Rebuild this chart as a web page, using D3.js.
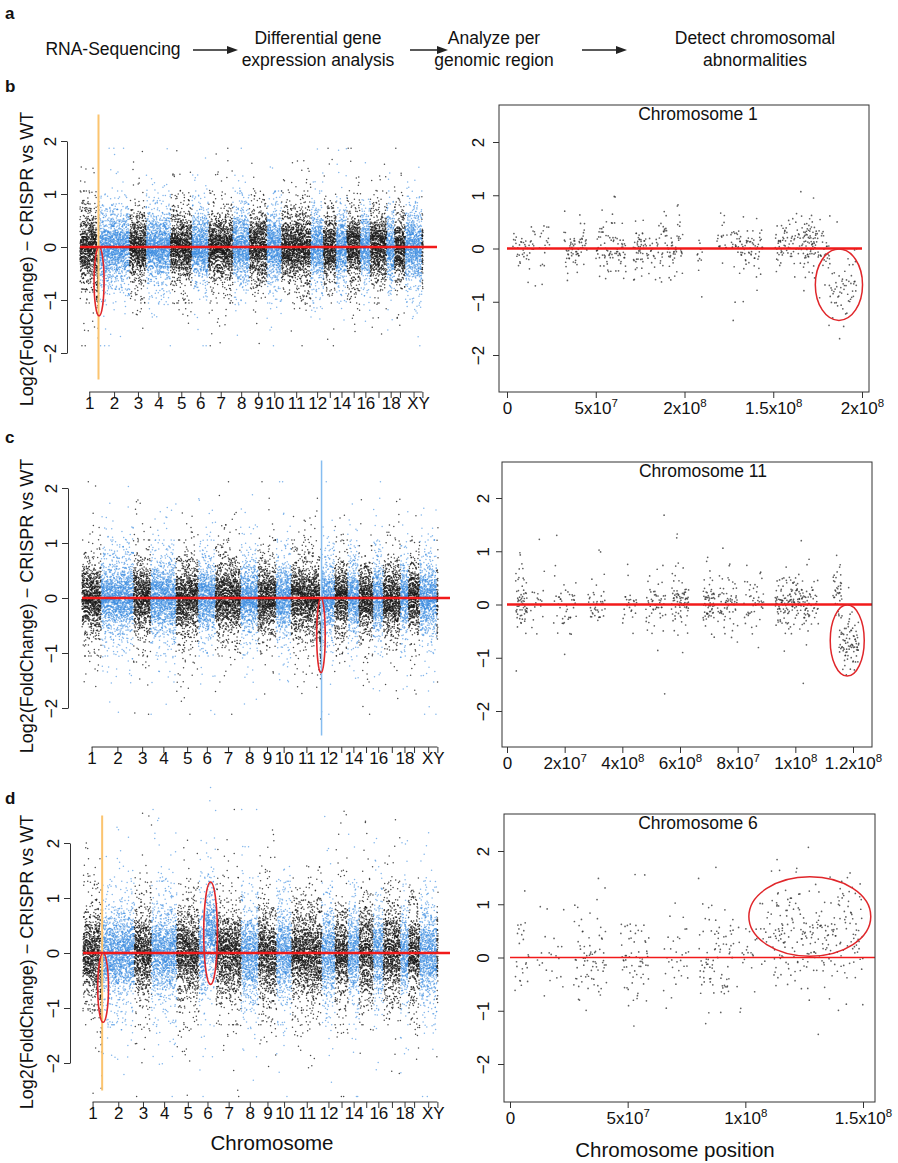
<!DOCTYPE html>
<html>
<head>
<meta charset="utf-8">
<script src="https://cdn.jsdelivr.net/npm/d3@7"></script>
<style>
  body { margin: 0; background: #fff; }
  svg text { font-family: "Liberation Sans", Arial, Helvetica, sans-serif; fill: #111; }
</style>
</head>
<body>
<svg id="fig" width="898" height="1163"></svg>
<script>
// ========================================
// ============ Data (read off) ===========
// ========================================

// Mouse chromosomes, approx. number of expressed genes (x = gene order)
var chromNames = ["1","2","3","4","5","6","7","8","9","10","11","12","13","14","15","16","17","18","19","X","Y"];
var geneCounts = [950,1600,850,1250,1100,850,1250,850,900,750,1500,650,650,550,700,500,850,400,550,850,60];
// R drops overlapping labels, these are the ones that survive
var shownChromLabels = ["1","2","3","4","5","6","7","8","9","10","11","12","14","16","18","X","Y"];
var yTicks = [-2, -1, 0, 1, 2];

// genome-wide log2FC spread per panel [core, wide]
var spreadB = [0.17, 0.3];
var spreadC = [0.17, 0.34];
var spreadD = [0.21, 0.42];

// shifted segments (fraction along the chromosome)
var shiftsB = [{chrom: "1", from: 0.9, to: 1.0, shift: -0.7}];
var shiftsC = [{chrom: "11", from: 0.94, to: 1.0, shift: -0.7}];
var shiftsD = [{chrom: "1", from: 0.9, to: 1.0, shift: -0.65},
               {chrom: "6", from: 0.4, to: 1.0, shift: 0.4}];

// circled regions on genome plots
var circledB = [{chrom: "1", at: 1.03, halfWidth: 0.27, y: -0.65, halfHeight: 0.65}];
var circledC = [{chrom: "11", at: 0.98, halfWidth: 0.14, y: -0.68, halfHeight: 0.68}];
var circledD = [{chrom: "1", at: 1.05, halfWidth: 0.28, y: -0.63, halfHeight: 0.63},
                {chrom: "6", at: 0.68, halfWidth: 0.4, y: 0.36, halfHeight: 0.93}];

// vertical marker [chrom, fraction]
var markerB = ["1", 1.0];
var markerC = ["11", 1.0];
var markerD = ["1", 1.0];

// per-chromosome gene clusters: [startMb, endMb, genes, shift]
var clustersChr1 = [[3,16,45,0],[18,24,18,0],[32,45,70,0],[50,67,90,0],[71,77,45,0.05],[77,86,30,0],
  [86,99,70,0.05],[107,110,12,-0.1],[118,124,18,0.1],[126,144,85,0.05],[151,157,35,0.1],
  [157,167,45,0.1],[167,174,70,0.15],[174,182,35,0.05],[181,197,60,-0.75]];
var clustersChr11 = [[3,7,65,0],[8,13,18,0],[16,24,45,0],[28,34,40,-0.05],[40,45,25,0],[48,55,55,0],
  [57,63,80,0.05],[68,72,65,0.05],[73,80,65,0],[82,89,45,0],[93,105,170,0.05],[105,108,22,0],
  [113,116,32,0.3],[115,122,90,-0.72]];
var clustersChr6 = [[2,8,25,0],[11,23,22,0],[27,41,75,0],[47,59,65,-0.15],[65,76,32,0],[80,95,85,0],
  [96,105,22,0],[106,116,30,0.4],[112,150,175,0.6],[112,150,55,-0.1]];
var spreadChr1 = [0.13, 0.27];
var spreadChr11 = [0.13, 0.27];
var spreadChr6 = [0.22, 0.4];

var ticksChr1 = [0, 5e7, 1e8, 1.5e8, 2e8];
var tickLabelsChr1 = ["0", "5x10^7", "2x10^8", "1.5x10^8", "2x10^8"];
var ticksChr11 = [0, 2e7, 4e7, 6e7, 8e7, 1e8, 1.2e8];
var tickLabelsChr11 = ["0", "2x10^7", "4x10^8", "6x10^8", "8x10^7", "1x10^8", "1.2x10^8"];
var ticksChr6 = [0, 5e7, 1e8, 1.5e8];
var tickLabelsChr6 = ["0", "5x10^7", "1x10^8", "1.5x10^8"];

var flowSteps = [["RNA-Sequencing"], ["Differential gene", "expression analysis"],
                 ["Analyze per", "genomic region"], ["Detect chromosomal", "abnormalities"]];

// ========================================
// ============== Drawing =================
// ========================================
var svg = d3.select("#fig");
var RED = "#f21a1a", BLACK = "#1a1a1a", BLUE = "#3d8ee0", AXIS = "#333";
var PHI = 0.6180339887498949, RT2 = 0.41421356237309515;

// logistic quantile at an evenly spread (quadratic Weyl) position
function spreadQuantile(k, off) {
    var u = (k * (k * RT2 * 0.5 + PHI) + off) % 1;
    u = Math.min(Math.max(u, 0.002), 0.998);
    return Math.log(u / (1 - u));
}

function panelLetter(t, x, y) {
    svg.append("text").attr("x", x).attr("y", y)
        .attr("font-size", 17).attr("font-weight", "bold").text(t);
}

// Rotated y tick labels the R way
function rotateYLabels(axisG, shift) {
    axisG.selectAll(".tick text")
        .attr("x", 0).attr("y", 0).attr("dy", 0)
        .attr("text-anchor", "middle")
        .attr("transform", "translate(" + shift + ",0) rotate(-90)");
}

// ---- Flow chart (panel a)
panelLetter("a", 5, 19);
var flowX = [113, 318, 494, 755];
flowSteps.forEach(function(lines, i) {
    var t = svg.append("text").attr("x", flowX[i]).attr("text-anchor", "middle").attr("font-size", 17.5);
    lines.forEach(function(l, j) {
        t.append("tspan").attr("x", flowX[i])
            .attr("y", lines.length == 1 ? 55 : 44 + j * 22).text(l);
    });
});
var arrowX = [[193, 238], [410, 448], [582, 627]];
arrowX.forEach(function(a) {
    svg.append("line").attr("x1", a[0]).attr("x2", a[1] - 8).attr("y1", 50).attr("y2", 50)
        .attr("stroke", "#222").attr("stroke-width", 1.5);
    svg.append("path")
        .attr("d", "M" + a[1] + ",50 L" + (a[1] - 11) + ",46 L" + (a[1] - 11) + ",54 Z")
        .attr("fill", "#222");
});

// ---- Genome-wide plot
function drawGenome(cfg) {
    var g = svg.append("g");
    var starts = [0];
    geneCounts.forEach(function(n, i) { starts.push(starts[i] + n); });
    var total = starts[starts.length - 1];

    var x = d3.scaleLinear().domain([0, total]).range([cfg.x0, cfg.x1]);
    var y = d3.scaleLinear().domain([-2, 2]).range([cfg.yBottom, cfg.yTop]);

    var genes = [];
    chromNames.forEach(function(c, ci) {
        for (var j = 0; j < geneCounts[ci]; j++) {
            var k = starts[ci] + j + 1;
            var frac = j / geneCounts[ci];
            var s = (k % 4 == 0) ? cfg.spread[1] : cfg.spread[0];
            var shift = 0;
            cfg.shifts.forEach(function(sh) {
                if (sh.chrom == c && frac >= sh.from && frac <= sh.to) shift = sh.shift;
            });
            genes.push({idx: k - 0.5, lfc: shift + s * spreadQuantile(k, cfg.offset), ci: ci});
        }
    });

    g.append("g").selectAll("circle")
        .data(genes)
        .join("circle")
        .attr("cx", function(d) { return x(d.idx); })
        .attr("cy", function(d) { return y(d.lfc); })
        .attr("r", 0.75)
        .attr("fill", function(d) { return d.ci % 2 ? BLUE : BLACK; })
        .attr("fill-opacity", function(d) { return d.ci % 2 ? 0.65 : 0.8; });

    // vertical marker
    var mi = chromNames.indexOf(cfg.marker[0]);
    var mx = x(starts[mi] + geneCounts[mi] * cfg.marker[1]);
    g.append("line").attr("x1", mx).attr("x2", mx)
        .attr("y1", y(2.5)).attr("y2", y(-2.5))
        .attr("stroke", cfg.markerColor).attr("stroke-width", cfg.markerWidth);

    // zero line
    g.append("line").attr("x1", cfg.x0).attr("x2", cfg.redEnd)
        .attr("y1", y(0)).attr("y2", y(0))
        .attr("stroke", RED).attr("stroke-width", 2.6);

    // circled regions
    cfg.circled.forEach(function(e) {
        var ci = chromNames.indexOf(e.chrom);
        g.append("ellipse")
            .attr("cx", x(starts[ci] + geneCounts[ci] * e.at))
            .attr("cy", y(e.y))
            .attr("rx", x(geneCounts[ci] * e.halfWidth) - x(0))
            .attr("ry", y(0) - y(e.halfHeight))
            .attr("fill", "none").attr("stroke", "#e0262a").attr("stroke-width", 1.6);
    });

    // y axis
    var ya = g.append("g").attr("transform", "translate(" + cfg.axisX + ",0)")
        .call(d3.axisLeft(y).tickValues(yTicks).tickSize(6).tickSizeOuter(0).tickFormat(d3.format("d")));
    ya.selectAll("path, line").attr("stroke", AXIS);
    ya.selectAll("text").attr("font-size", 17).attr("fill", "#111");
    rotateYLabels(ya, -11);

    // x axis: ticks at chromosome centres, line from first to last tick
    var centers = chromNames.map(function(c, i) { return starts[i] + geneCounts[i] / 2; });
    var xa = g.append("g").attr("transform", "translate(0," + cfg.axisY + ")")
        .call(d3.axisBottom(x).tickValues(centers).tickSize(6)
            .tickFormat(function(d, i) {
                return shownChromLabels.indexOf(chromNames[i]) >= 0 ? chromNames[i] : "";
            }));
    xa.select(".domain").remove();
    xa.append("line").attr("x1", x(centers[0])).attr("x2", x(centers[centers.length - 1]))
        .attr("stroke", AXIS);
    xa.selectAll("line").attr("stroke", AXIS);
    xa.selectAll("text").attr("font-size", 17).attr("fill", "#111")
        .attr("y", 17).attr("dy", 0);
    // X and Y sit almost on top of each other: butt them together as "XY"
    var nx = centers.length;
    var mid = (x(centers[nx - 2]) + x(centers[nx - 1])) / 2;
    xa.selectAll(".tick").each(function(d, i) {
        if (i == nx - 2) d3.select(this).select("text").attr("text-anchor", "end")
            .attr("x", mid - x(centers[nx - 2]));
        if (i == nx - 1) d3.select(this).select("text").attr("text-anchor", "start")
            .attr("x", mid - x(centers[nx - 1]));
    });

    // y label
    svg.append("text")
        .attr("transform", "translate(33," + cfg.labelY + ") rotate(-90)")
        .attr("text-anchor", "middle").attr("font-size", 18)
        .text("Log2(FoldChange) \u2212 CRISPR vs WT");
}

// ---- Single chromosome plot
function drawChromosome(cfg) {
    var g = svg.append("g");
    var x = d3.scaleLinear().domain([0, cfg.refTick]).range([cfg.xZero, cfg.xRef]);
    var y = d3.scaleLinear().domain([-2, 2]).range([cfg.yBottom, cfg.yTop]);

    var pts = [], k = 0;
    cfg.clusters.forEach(function(c) {
        for (var j = 0; j < c[2]; j++) {
            k++;
            var s = (k % 4 == 0) ? cfg.spread[1] : cfg.spread[0];
            pts.push({
                pos: (c[0] + (c[1] - c[0]) * ((j * RT2 + 0.5) % 1)) * 1e6,
                lfc: c[3] + s * spreadQuantile(k, cfg.offset)
            });
        }
    });

    g.append("g").selectAll("circle")
        .data(pts)
        .join("circle")
        .attr("cx", function(d) { return x(d.pos); })
        .attr("cy", function(d) { return y(d.lfc); })
        .attr("r", 0.85)
        .attr("fill", "#2a2a2a")
        .attr("fill-opacity", 0.75);

    g.append("line").attr("x1", x(0)).attr("x2", Math.min(x(cfg.redEnd), cfg.box[2]))
        .attr("y1", y(0)).attr("y2", y(0))
        .attr("stroke", RED).attr("stroke-width", cfg.redWidth);

    var e = cfg.circle;
    g.append("ellipse")
        .attr("cx", x(e[0])).attr("cy", y(e[1]))
        .attr("rx", x(e[2]) - x(0)).attr("ry", y(0) - y(e[3]))
        .attr("fill", "none").attr("stroke", "#e0262a").attr("stroke-width", 1.5);

    // box
    g.append("rect").attr("x", cfg.box[0]).attr("y", cfg.box[1])
        .attr("width", cfg.box[2] - cfg.box[0]).attr("height", cfg.box[3] - cfg.box[1])
        .attr("fill", "none").attr("stroke", AXIS).attr("stroke-width", 1);

    var ya = g.append("g").attr("transform", "translate(" + cfg.box[0] + ",0)")
        .call(d3.axisLeft(y).tickValues(yTicks).tickSize(6).tickFormat(d3.format("d")));
    ya.select(".domain").remove();
    ya.selectAll("line").attr("stroke", AXIS);
    ya.selectAll("text").attr("font-size", 17).attr("fill", "#111");
    rotateYLabels(ya, -(cfg.box[0] - cfg.yLabelX) + 6);

    var xa = g.append("g").attr("transform", "translate(0," + cfg.box[3] + ")")
        .call(d3.axisBottom(x).tickValues(cfg.ticks).tickSize(6).tickFormat(""));
    xa.select(".domain").remove();
    xa.selectAll("line").attr("stroke", AXIS);
    xa.selectAll(".tick").each(function(d, i) {
        var parts = cfg.tickLabels[i].split("^");
        var t = d3.select(this).append("text")
            .attr("y", 22).attr("text-anchor", "middle").attr("font-size", 17).attr("fill", "#111");
        t.append("tspan").text(parts[0]);
        if (parts.length > 1) {
            t.append("tspan").attr("dy", -7).attr("font-size", 11.5).text(parts[1]);
        }
    });

    svg.append("text").attr("x", cfg.titleX).attr("y", cfg.box[1] + 15)
        .attr("text-anchor", "middle").attr("font-size", 17.5).text(cfg.title);
}

// ---- Panel b
panelLetter("b", 5, 92);
drawGenome({x0: 80, x1: 423, yTop: 141, yBottom: 353, axisX: 67, axisY: 392, redEnd: 437,
    labelY: 259, spread: spreadB, shifts: shiftsB, circled: circledB, offset: 0.13,
    marker: markerB, markerColor: "#fbc46f", markerWidth: 2});
drawChromosome({box: [499, 105, 869, 392], xZero: 507, xRef: 862, refTick: 2e8,
    yTop: 142, yBottom: 355, yLabelX: 478, clusters: clustersChr1, spread: spreadChr1,
    offset: 0.41, redEnd: 2e8, redWidth: 2.6, circle: [1.87e8, -0.68, 1.33e7, 0.67],
    ticks: ticksChr1, tickLabels: tickLabelsChr1, title: "Chromosome 1", titleX: 698});

// ---- Panel c
panelLetter("c", 5, 443);
drawGenome({x0: 82, x1: 438, yTop: 488, yBottom: 708, axisX: 68, axisY: 747, redEnd: 450,
    labelY: 606, spread: spreadC, shifts: shiftsC, circled: circledC, offset: 0.57,
    marker: markerC, markerColor: "#86bdf0", markerWidth: 1.5});
drawChromosome({box: [502, 462, 872, 747], xZero: 507, xRef: 853, refTick: 1.2e8,
    yTop: 498, yBottom: 711, yLabelX: 483, clusters: clustersChr11, spread: spreadChr11,
    offset: 0.77, redEnd: 1.3e8, redWidth: 2.6, circle: [1.18e8, -0.675, 5.9e6, 0.67],
    ticks: ticksChr11, tickLabels: tickLabelsChr11, title: "Chromosome 11", titleX: 703});

// ---- Panel d
panelLetter("d", 5, 804);
drawGenome({x0: 83, x1: 438, yTop: 843, yBottom: 1063, axisX: 70, axisY: 1102, redEnd: 450,
    labelY: 962, spread: spreadD, shifts: shiftsD, circled: circledD, offset: 0.29,
    marker: markerD, markerColor: "#fbc46f", markerWidth: 2});
drawChromosome({box: [504, 814, 875, 1102], xZero: 510, xRef: 863, refTick: 1.5e8,
    yTop: 851, yBottom: 1064, yLabelX: 483, clusters: clustersChr6, spread: spreadChr6,
    offset: 0.05, redEnd: 1.6e8, redWidth: 1.6, circle: [1.274e8, 0.77, 2.59e7, 0.745],
    ticks: ticksChr6, tickLabels: tickLabelsChr6, title: "Chromosome 6", titleX: 698});

// axis titles under panel d
svg.append("text").attr("x", 272).attr("y", 1150).attr("text-anchor", "middle")
    .attr("font-size", 20.5).text("Chromosome");
svg.append("text").attr("x", 675).attr("y", 1157).attr("text-anchor", "middle")
    .attr("font-size", 20.5).text("Chromosome position");
</script>
</body>
</html>
